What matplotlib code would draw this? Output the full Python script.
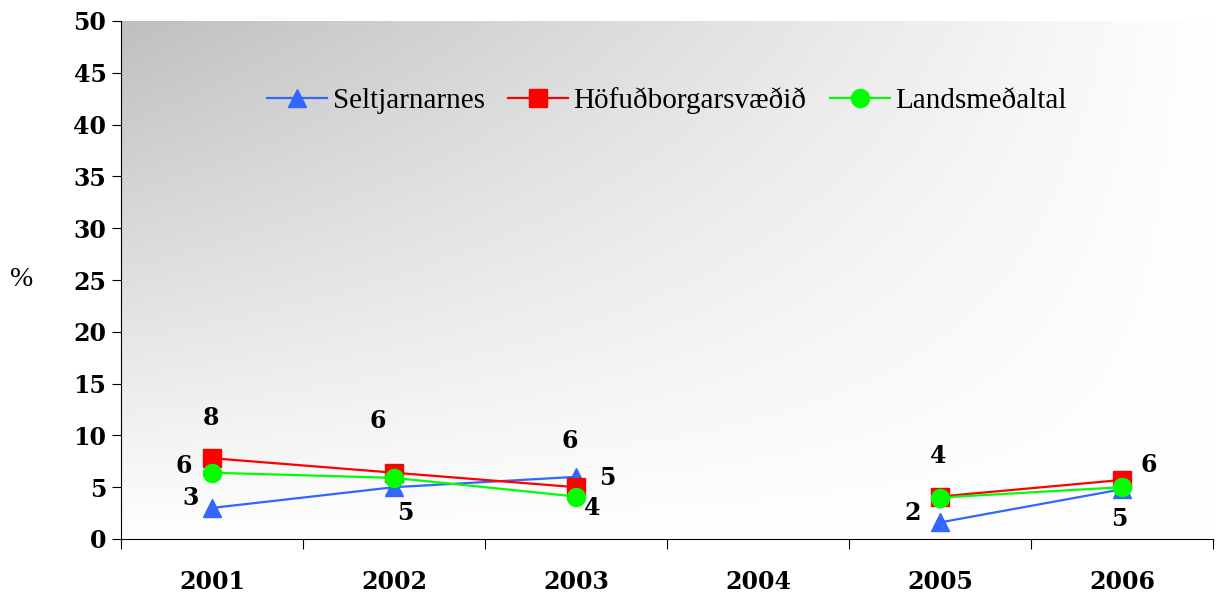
import matplotlib.pyplot as plt
import numpy as np

years = ['2001', '2002', '2003', '2004', '2005', '2006']
seltjarnarnes = [3.0, 5.0, 6.0, np.nan, 1.6, 4.8]
hofudborg = [7.8, 6.4, 5.0, np.nan, 4.1, 5.7]
landsmedaltal = [6.4, 5.9, 4.1, np.nan, 4.0, 5.0]

# label offsets in pixels per point (None = no label)
off_blue = [(-21, 10), (11, -26), (-6, 36), None, (-27, 9), (-3, -30)]
off_red = [(-1, 40), (-16, 52), (31, 9), None, (-2, 41), (27, 15)]
off_green = [(-28, 7), None, (16, -11), None, None, None]

plt.rcParams['font.family'] = 'Liberation Serif'
num_font = dict(family='DejaVu Serif', weight='bold', size=17)

fig = plt.figure(figsize=(12.23, 5.99), dpi=100)
ax = fig.add_axes([121/1223, 60/599, 1092/1223, 518/599])

# gradient background: grey in the top-left, fading to white right and down
gx, gy = np.meshgrid(np.linspace(0, 1, 300), np.linspace(0, 1, 200))
shade = 1 - 0.25 * (1 - gx) * (1 - gy)
ax.imshow(np.dstack([shade, shade, shade]), extent=[0, 1, 0, 1], transform=ax.transAxes,
          aspect='auto', zorder=0, origin='upper')

x = np.arange(len(years)) + 0.5
series = [
    (seltjarnarnes, '#3366ff', '^', 'Seltjarnarnes', off_blue),
    (hofudborg, '#ff0000', 's', 'Höfuðborgarsvæðið', off_red),
    (landsmedaltal, '#00ff00', 'o', 'Landsmeðaltal', off_green),
]
for vals, col, mk, name, offs in series:
    v = np.array(vals)
    ax.plot(x[:3], v[:3], color=col, lw=1.6, marker=mk, ms=13, zorder=3, label=name)
    ax.plot(x[4:], v[4:], color=col, lw=1.6, marker=mk, ms=13, zorder=3)
    for xi, vi, o in zip(x, v, offs):
        if o is None or np.isnan(vi):
            continue
        ax.annotate(f'{vi:.0f}', (xi, vi), xytext=(o[0] * 0.72, o[1] * 0.72),
                    textcoords='offset points', ha='center', va='center',
                    zorder=4, **num_font)

ax.set_xlim(0, 6)
ax.set_ylim(0, 50)
ax.set_yticks(range(0, 51, 5))
ax.set_yticklabels([str(v) for v in range(0, 51, 5)], **num_font)
ax.set_xticks(range(0, 7))
ax.set_xticklabels([])
ax.set_xticks(x, minor=True)
ax.set_xticklabels(years, minor=True, **num_font)
ax.tick_params(axis='x', which='minor', length=0, pad=22)
ax.tick_params(axis='x', which='major', length=7, direction='out')
ax.tick_params(axis='y', length=6.5, pad=4, direction='out')
for s in ['top', 'right']:
    ax.spines[s].set_visible(False)

fig.text(22/1223, 1 - 280/599, '%', fontsize=20, ha='center', va='center')

ax.legend(loc='center', bbox_to_anchor=(0.5, 0.846), ncol=3, frameon=False,
          fontsize=21, handlelength=2.05, handletextpad=0.2, columnspacing=0.8)

fig.savefig('out.png', dpi=100)
